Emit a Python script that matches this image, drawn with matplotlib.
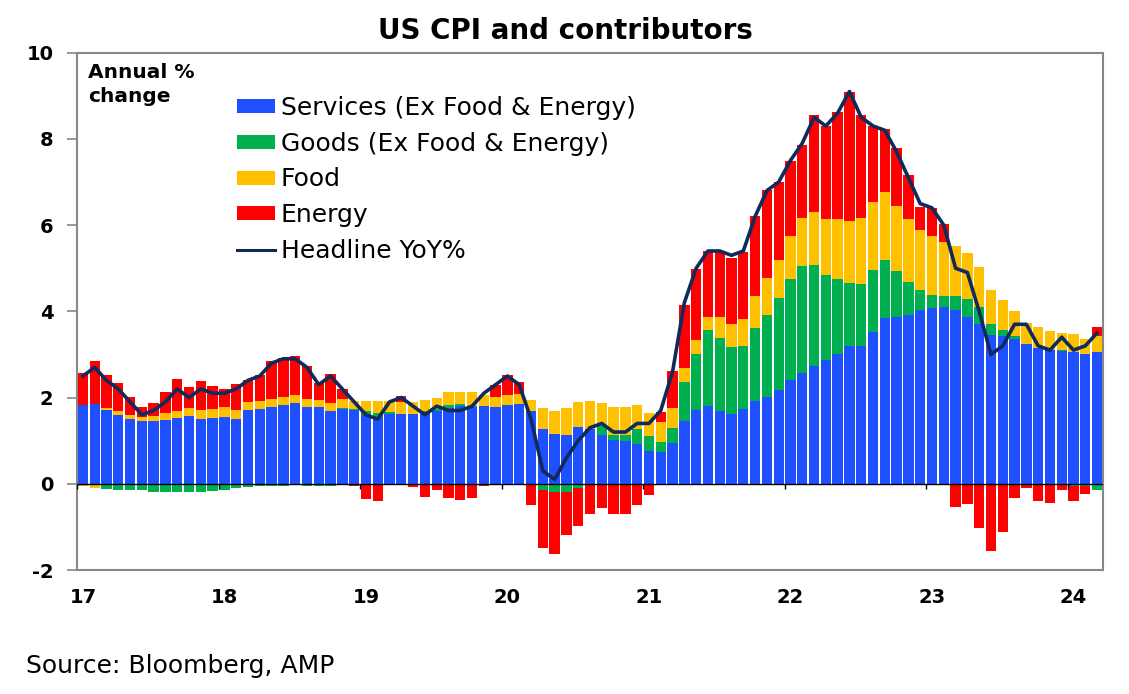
import numpy as np
import matplotlib
matplotlib.use('Agg')
import matplotlib.pyplot as plt
from matplotlib.lines import Line2D

plt.rcParams['axes.unicode_minus'] = False

# monthly, Jan 2017 - Mar 2024 (contributions to annual % change)
years = ['17', '18', '19', '20', '21', '22', '23', '24']

services = [1.83, 1.86, 1.70, 1.60, 1.50, 1.45, 1.45, 1.48, 1.52, 1.58, 1.50, 1.52,
            1.54, 1.51, 1.70, 1.74, 1.79, 1.82, 1.87, 1.77, 1.77, 1.69, 1.73, 1.70,
            1.60, 1.56, 1.62, 1.62, 1.62, 1.64, 1.68, 1.76, 1.80, 1.78, 1.80, 1.77,
            1.82, 1.86, 1.68, 1.27, 1.15, 1.14, 1.31, 1.27, 1.14, 1.02, 1.00, 0.92,
            0.77, 0.73, 0.94, 1.45, 1.72, 1.81, 1.69, 1.62, 1.73, 1.91, 2.01, 2.18,
            2.41, 2.58, 2.74, 2.88, 3.02, 3.19, 3.20, 3.51, 3.84, 3.88, 3.92, 4.04,
            4.08, 4.11, 4.02, 3.88, 3.71, 3.46, 3.43, 3.36, 3.25, 3.15, 3.11, 3.07,
            3.05, 3.02, 3.05]

goods = [0.00, 0.00, -0.12, -0.14, -0.15, -0.15, -0.18, -0.18, -0.20, -0.20, -0.18, -0.16,
         -0.14, -0.10, -0.07, -0.06, -0.05, -0.04, -0.03, -0.04, -0.05, -0.05, 0.03, 0.03,
         0.08, 0.08, 0.04, -0.03, 0.00, 0.05, 0.05, 0.07, 0.04, 0.02, 0.00, 0.00,
         -0.03, -0.02, -0.02, -0.15, -0.19, -0.19, -0.10, 0.00, 0.19, 0.12, 0.13, 0.35,
         0.33, 0.25, 0.35, 0.90, 1.30, 1.75, 1.69, 1.55, 1.46, 1.70, 1.91, 2.13,
         2.34, 2.48, 2.34, 1.97, 1.73, 1.47, 1.44, 1.46, 1.36, 1.05, 0.76, 0.46,
         0.31, 0.24, 0.33, 0.41, 0.40, 0.25, 0.14, 0.06, 0.00, -0.02, -0.03, 0.04,
         -0.05, -0.06, -0.15]

food = [-0.06, -0.10, 0.05, 0.08, 0.10, 0.10, 0.13, 0.16, 0.16, 0.18, 0.20, 0.21,
        0.23, 0.21, 0.19, 0.19, 0.17, 0.19, 0.18, 0.19, 0.18, 0.18, 0.20, 0.20,
        0.25, 0.27, 0.25, 0.27, 0.28, 0.26, 0.27, 0.29, 0.28, 0.32, 0.26, 0.25,
        0.23, 0.22, 0.27, 0.49, 0.54, 0.62, 0.58, 0.64, 0.54, 0.65, 0.66, 0.56,
        0.54, 0.45, 0.47, 0.33, 0.31, 0.32, 0.49, 0.53, 0.64, 0.75, 0.85, 0.89,
        0.99, 1.10, 1.22, 1.29, 1.39, 1.43, 1.52, 1.56, 1.57, 1.52, 1.46, 1.38,
        1.36, 1.27, 1.17, 1.06, 0.93, 0.79, 0.70, 0.58, 0.48, 0.48, 0.44, 0.38,
        0.43, 0.34, 0.37]

energy = [0.74, 0.98, 0.77, 0.66, 0.41, 0.22, 0.29, 0.48, 0.75, 0.48, 0.69, 0.53,
          0.43, 0.60, 0.52, 0.60, 0.88, 0.91, 0.92, 0.78, 0.39, 0.68, 0.25, -0.06,
          -0.36, -0.40, 0.00, 0.15, -0.07, -0.30, -0.14, -0.34, -0.37, -0.33, -0.04, 0.27,
          0.47, 0.29, -0.47, -1.35, -1.45, -1.00, -0.87, -0.70, -0.56, -0.70, -0.70, -0.49,
          -0.26, 0.23, 0.85, 1.47, 1.66, 1.51, 1.50, 1.54, 1.54, 1.86, 2.05, 1.81,
          1.74, 1.71, 2.26, 2.15, 2.48, 2.99, 2.40, 1.76, 1.46, 1.34, 1.03, 0.55,
          0.65, 0.41, -0.54, -0.46, -1.03, -1.55, -1.11, -0.33, -0.10, -0.37, -0.42, -0.14,
          -0.34, -0.17, 0.21]

headline = [2.5, 2.7, 2.4, 2.2, 1.9, 1.6, 1.7, 1.9, 2.2, 2.0, 2.2, 2.1,
            2.1, 2.2, 2.4, 2.5, 2.8, 2.9, 2.9, 2.7, 2.3, 2.5, 2.2, 1.9,
            1.6, 1.5, 1.9, 2.0, 1.8, 1.6, 1.8, 1.7, 1.7, 1.8, 2.1, 2.3,
            2.5, 2.3, 1.5, 0.3, 0.1, 0.6, 1.0, 1.3, 1.4, 1.2, 1.2, 1.4,
            1.4, 1.7, 2.6, 4.2, 5.0, 5.4, 5.4, 5.3, 5.4, 6.2, 6.8, 7.0,
            7.5, 7.9, 8.5, 8.3, 8.6, 9.1, 8.5, 8.3, 8.2, 7.7, 7.1, 6.5,
            6.4, 6.0, 5.0, 4.9, 4.0, 3.0, 3.2, 3.7, 3.7, 3.2, 3.1, 3.4,
            3.1, 3.2, 3.5]

series = [('Services (Ex Food & Energy)', services, '#1E50FF'),
          ('Goods (Ex Food & Energy)', goods, '#00B050'),
          ('Food', food, '#FFC000'),
          ('Energy', energy, '#FF0000')]

x = np.arange(len(headline))

fig = plt.figure(figsize=(11.29, 6.94), dpi=100)
ax = fig.add_axes([77 / 1129, 1 - 570 / 694, 1026 / 1129, (570 - 52.7) / 694])

# stack positives up and negatives down
pos_base = np.zeros(len(x))
neg_base = np.zeros(len(x))
handles = []
for name, vals, col in series:
    v = np.array(vals)
    bottom = np.where(v >= 0, pos_base, neg_base)
    bars = ax.bar(x, v, width=0.88, bottom=bottom, color=col, label=name,
                  linewidth=0, zorder=2)
    handles.append(bars)
    pos_base = pos_base + np.clip(v, 0, None)
    neg_base = neg_base + np.clip(v, None, 0)

line, = ax.plot(x, headline, color='#102A5C', lw=2.6, zorder=4,
                solid_joinstyle='round')

ax.axhline(0, color='black', lw=1, zorder=3)
jan = np.arange(0, len(x), 12)
ax.vlines(jan - 0.5, -0.12, 0, color='black', lw=1, zorder=3)

ax.set_xlim(-0.5, len(x) - 0.5)
ax.set_ylim(-2, 10)
ax.set_yticks(np.arange(-2, 11, 2))
ax.set_xticks(jan)
ax.set_xticklabels(years)

for s in ax.spines.values():
    s.set_color('#888888')
    s.set_linewidth(1.5)

ax.tick_params(axis='y', direction='out', length=7, width=1.2, color='#888888',
               labelsize=14, pad=10)
ax.tick_params(axis='x', length=0, labelsize=14, pad=13)
for lab in ax.get_xticklabels() + ax.get_yticklabels():
    lab.set_fontweight('bold')

handles.append(Line2D([0], [0], color='#102A5C', lw=2.2))
leg = ax.legend(handles=handles,
                labels=[s[0] for s in series] + ['Headline YoY%'],
                loc='upper left', bbox_to_anchor=(237 / 1129, 1 - 96 / 694),
                bbox_transform=fig.transFigure, frameon=False, fontsize=18,
                borderpad=0, borderaxespad=0, handlelength=1.5,
                handleheight=0.48, handletextpad=0.25, labelspacing=0.47)

fig.text(88 / 1129, 1 - 72 / 694, 'Annual %', fontsize=14.5, fontweight='bold',
         va='center', ha='left')
fig.text(88 / 1129, 1 - 97 / 694, 'change', fontsize=14.5, fontweight='bold',
         va='center', ha='left')

fig.text(0.501, 1 - 31 / 694, 'US CPI and contributors', fontsize=20,
         fontweight='bold', ha='center', va='center')
fig.text(26 / 1129, 1 - 673 / 694, 'Source: Bloomberg, AMP', fontsize=18,
         ha='left', va='baseline')

fig.savefig('out.png', dpi=100)
